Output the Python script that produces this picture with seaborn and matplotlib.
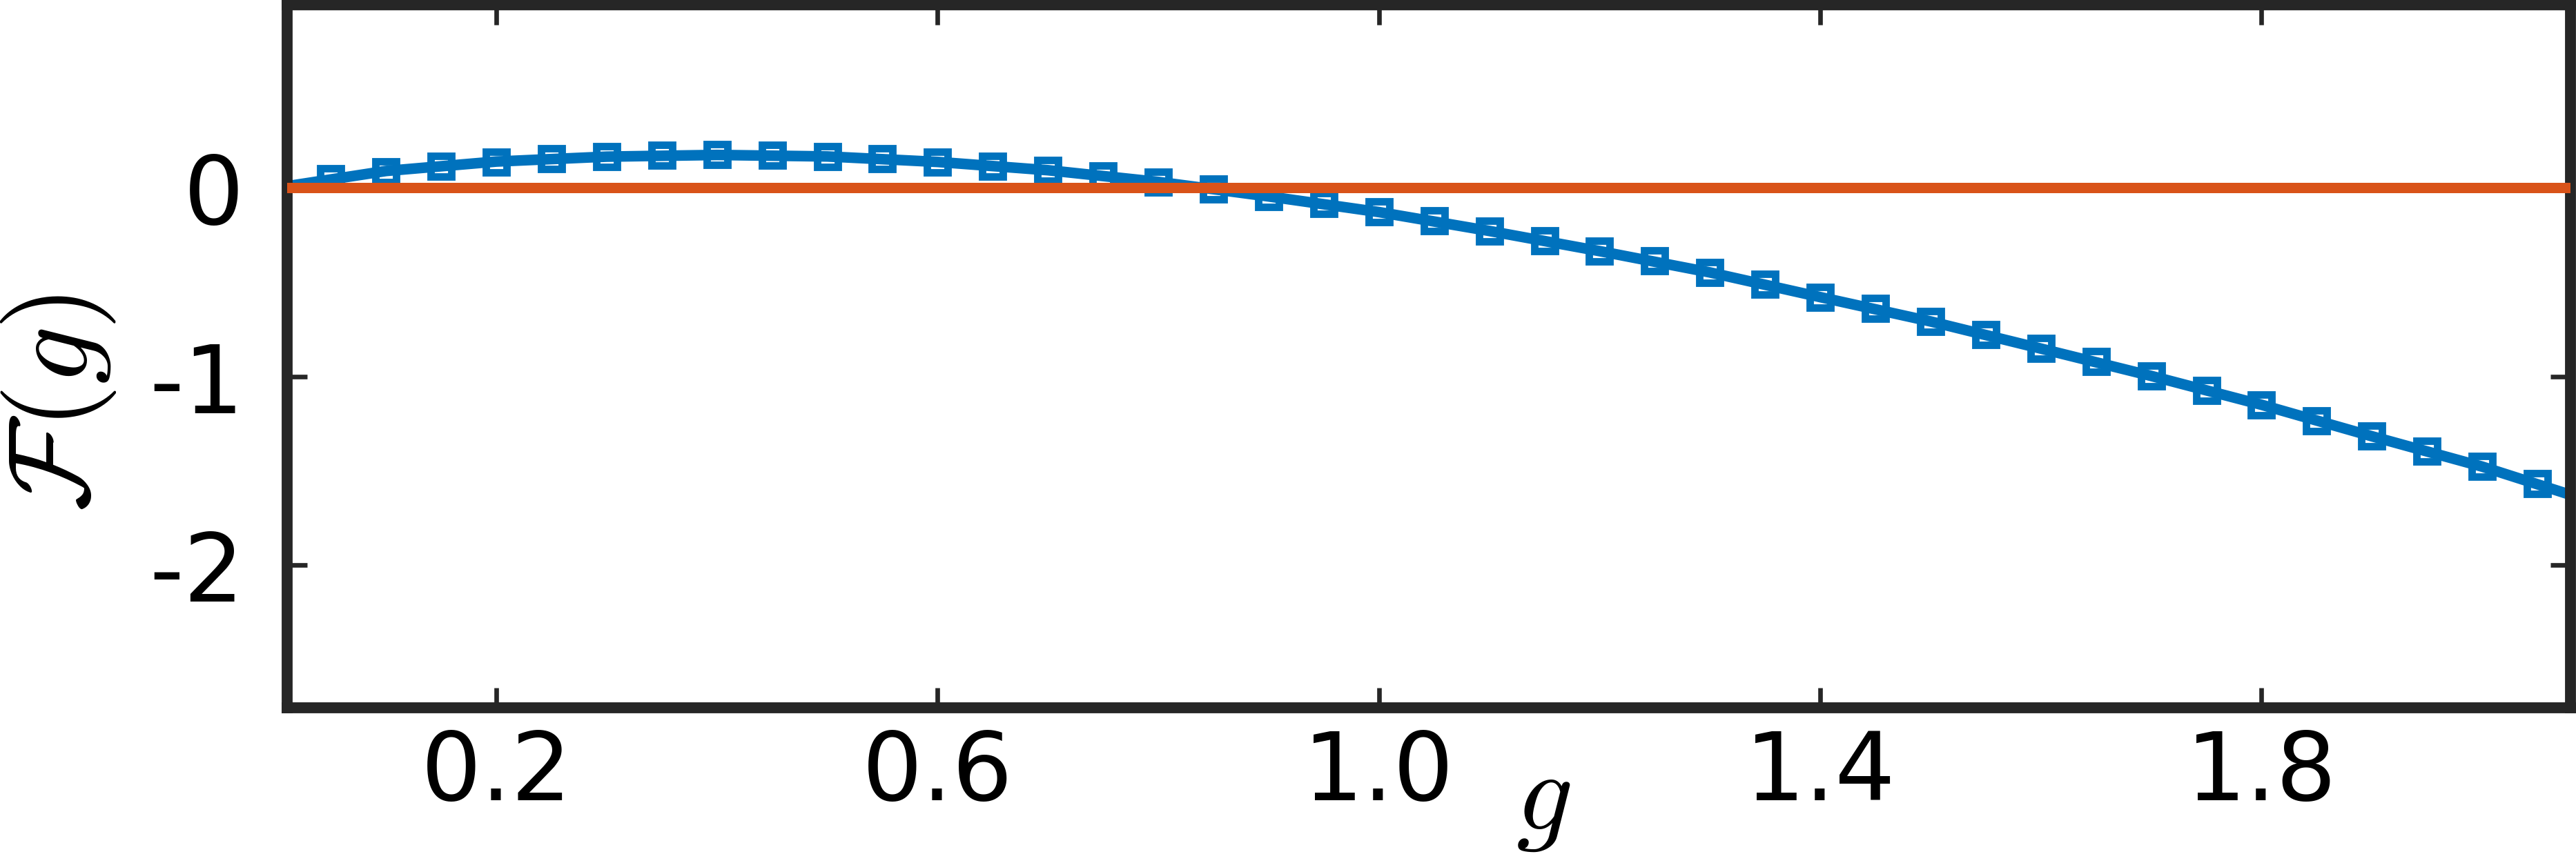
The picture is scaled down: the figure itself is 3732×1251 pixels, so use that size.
import numpy as np
import pandas as pd
import matplotlib
matplotlib.use('Agg')
import matplotlib.pyplot as plt
import seaborn as sns

sns.set_theme(style="ticks")
plt.rcParams['font.family'] = ['DejaVu Sans']
plt.rcParams['mathtext.fontset'] = 'cm'
plt.rcParams['axes.unicode_minus'] = False

# numerical points (open squares)
g_pts = [0.05, 0.10, 0.15, 0.20, 0.25, 0.30, 0.35, 0.40, 0.45, 0.50,
         0.55, 0.60, 0.65, 0.70, 0.75, 0.80, 0.85, 0.90, 0.95, 1.00,
         1.05, 1.10, 1.15, 1.20, 1.25, 1.30, 1.35, 1.40, 1.45, 1.50,
         1.55, 1.60, 1.65, 1.70, 1.75, 1.80, 1.85, 1.90, 1.95, 2.00, 2.05]
F_pts = [0.049, 0.085, 0.116, 0.138, 0.155, 0.166, 0.173, 0.176, 0.174, 0.167,
         0.154, 0.138, 0.115, 0.094, 0.063, 0.032, -0.007, -0.045, -0.083, -0.128,
         -0.174, -0.228, -0.281, -0.335, -0.387, -0.448, -0.509, -0.579, -0.640, -0.708,
         -0.776, -0.852, -0.921, -0.997, -1.073, -1.150, -1.234, -1.317, -1.395, -1.478, -1.569]

# continuous curve
g_line = [0.0, 0.1, 0.2, 0.3, 0.4, 0.5, 0.6, 0.7, 0.8, 0.9, 1.0,
          1.1, 1.2, 1.3, 1.4, 1.5, 1.6, 1.7, 1.8, 1.9, 2.0, 2.1]
F_line = [0.0, 0.09, 0.14, 0.166, 0.175, 0.167, 0.138, 0.094, 0.032, -0.045, -0.128,
          -0.228, -0.335, -0.448, -0.579, -0.708, -0.852, -0.997, -1.150, -1.317, -1.478, -1.665]

# zero reference
g_zero = [0.0, 2.1]
F_zero = [0.0, 0.0]

blue = '#0072BD'
orange = '#D95319'

fig = plt.figure(figsize=(3732/300, 1252/300), dpi=300)
ax = fig.add_axes([416/3732, 1 - 1027/1252, (3724-416)/3732, (1027-7.5)/1252])

sns.lineplot(x=g_line, y=F_line, ax=ax, color=blue, linewidth=3.7, zorder=2)
sns.lineplot(x=g_pts, y=F_pts, ax=ax, linestyle='', marker='s', markersize=7.2,
             markerfacecolor='none', markeredgecolor=blue, markeredgewidth=2.6, zorder=3)
sns.lineplot(x=g_zero, y=F_zero, ax=ax, color=orange, linewidth=3.6, zorder=4)

ax.set_xlim(0.0104, 2.08)
ax.set_ylim(-2.757, 0.973)
ax.set_xticks([0.2, 0.6, 1.0, 1.4, 1.8])
ax.set_xticklabels(['0.2', '0.6', '1.0', '1.4', '1.8'])
ax.set_yticks([-2, -1, 0])
ax.set_yticklabels(['-2', '-1', '0'])

for sp in ax.spines.values():
    sp.set_linewidth(3.8)
    sp.set_color('#262626')
    sp.set_visible(True)

ax.tick_params(axis='both', direction='in', length=7, width=1.6, color='#262626',
               labelsize=33, labelcolor='black', top=True, right=True)
ax.tick_params(axis='x', pad=7)
ax.tick_params(axis='y', pad=15)

ax.set_xlabel('$g$', fontsize=39, color='black')
ax.xaxis.set_label_coords(0.550, -0.052)
ax.set_ylabel(r'$\mathcal{F}(g)$', fontsize=40, color='black', va='center')
ax.yaxis.set_label_coords(-0.100, 0.435)

fig.savefig('out.png', dpi=300)
